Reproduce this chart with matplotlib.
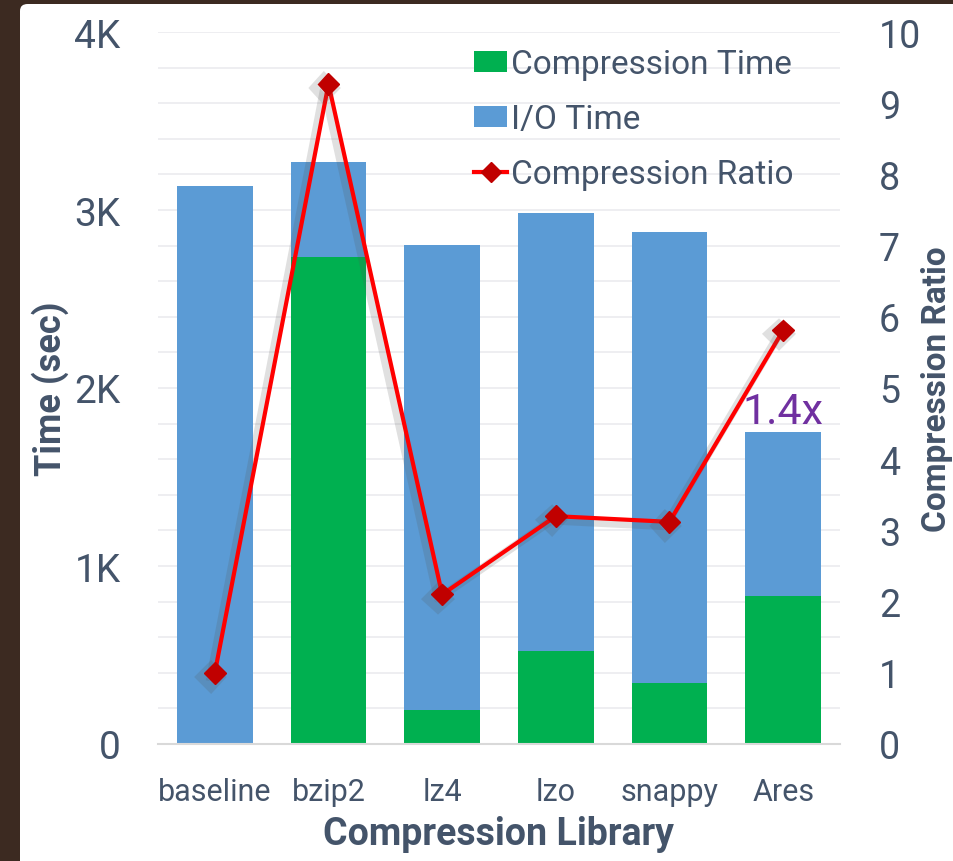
import matplotlib
matplotlib.use("Agg")
import matplotlib.pyplot as plt
import matplotlib.patheffects as pe
from matplotlib.patches import FancyBboxPatch, Patch
from matplotlib.lines import Line2D
from matplotlib.ticker import FixedLocator, MultipleLocator
import numpy as np

libraries = ["baseline", "bzip2", "lz4", "lzo", "snappy", "Ares"]
compression_time = [0, 2736, 191, 522, 343, 831]
total_time = [3135, 3270, 2803, 2983, 2876, 1753]
io_time = [t - c for t, c in zip(total_time, compression_time)]
compression_ratio = [1.0, 9.27, 2.1, 3.2, 3.12, 5.81]
left_ticks = [0, 1000, 2000, 3000, 4000]
left_tick_labels = ["0", "1K", "2K", "3K", "4K"]
speedup_label = "1.4x"

GREEN = "#00b050"
BLUE = "#5b9bd5"
RED = "#ff0000"
DARK_RED = "#c00000"
TEXT = "#44546a"
PURPLE = "#7030a0"

plt.rcParams["font.family"] = ["Roboto", "DejaVu Sans"]

W, H = 954, 862
fig = plt.figure(figsize=(W / 100, H / 100), dpi=100)
fig.patch.set_facecolor("#3c2a21")

# white slide panel with a rounded corner
panel = FancyBboxPatch((20 / W, -0.05), 1.2, (H - 5) / H + 0.05,
                       boxstyle="round,pad=0,rounding_size=0.008",
                       transform=fig.transFigure, facecolor="white",
                       edgecolor="none", zorder=-10)
fig.patches.append(panel)

ax = fig.add_axes([158 / W, 1 - 745 / H, (840 - 158) / W, (745 - 33) / H])
ax.set_facecolor("none")
x = np.arange(len(libraries))
width = 0.667

ax.bar(x, compression_time, width, color=GREEN, zorder=2)
ax.bar(x, io_time, width, bottom=compression_time, color=BLUE, zorder=2)

ax.set_xlim(-0.5, len(libraries) - 0.5)
ax.set_ylim(0, 4000)
ax.yaxis.set_major_locator(FixedLocator(left_ticks))
ax.set_yticklabels(left_tick_labels)
ax.yaxis.set_minor_locator(MultipleLocator(200))
ax.grid(axis="y", which="both", color="#ebebef", linewidth=1.2, zorder=0)
ax.set_axisbelow(True)
for s in ["top", "right", "left"]:
    ax.spines[s].set_visible(False)
ax.spines["bottom"].set_color("#d9d9d9")
ax.spines["bottom"].set_linewidth(1.5)
ax.set_xticks(x)
ax.set_xticklabels(libraries)
ax.tick_params(axis="both", which="both", length=0, colors=TEXT)
ax.tick_params(axis="y", labelsize=28, pad=27)
ax.tick_params(axis="x", labelsize=22, pad=24)

ax.set_ylabel("Time (sec)", fontsize=26, fontweight="bold", color=TEXT, labelpad=4)
ax.set_xlabel("Compression Library", fontsize=27, fontweight="bold", color=TEXT, labelpad=6)

ax.text(x[-1], total_time[-1], speedup_label, color=PURPLE, fontsize=31,
        ha="center", va="bottom", zorder=3)

ax2 = ax.twinx()
ax2.set_ylim(0, 10)
ax2.yaxis.set_major_locator(MultipleLocator(1))
for s in ["top", "right", "left", "bottom"]:
    ax2.spines[s].set_visible(False)
ax2.tick_params(axis="y", length=0, colors=TEXT, labelsize=27, pad=28)
ax2.set_ylabel("Compression Ratio", fontsize=24, fontweight="bold", color=TEXT, labelpad=0)

shadow = [pe.SimpleLineShadow(offset=(-3, -3), shadow_color="#555555", alpha=0.18, linewidth=6),
          pe.Normal()]
ax2.plot(x, compression_ratio, color=RED, linewidth=3, marker="D", markersize=11,
         markerfacecolor=DARK_RED, markeredgecolor=DARK_RED, zorder=4,
         path_effects=shadow)

handles = [Patch(facecolor=GREEN, edgecolor="none"),
           Patch(facecolor=BLUE, edgecolor="none"),
           Line2D([0], [0], color=RED, linewidth=3, marker="D", markersize=10,
                  markerfacecolor=DARK_RED, markeredgecolor=DARK_RED)]
leg = ax2.legend(handles, ["Compression Time", "I/O Time", "Compression Ratio"],
                 loc="upper left", bbox_to_anchor=((474 - 158) / (840 - 158), 0.977),
                 frameon=False, fontsize=24, labelcolor=TEXT,
                 handlelength=1.0, handleheight=0.57, handletextpad=0.12,
                 labelspacing=0.68, borderpad=0, borderaxespad=0)

fig.savefig("out.png", dpi=100, facecolor=fig.get_facecolor())
